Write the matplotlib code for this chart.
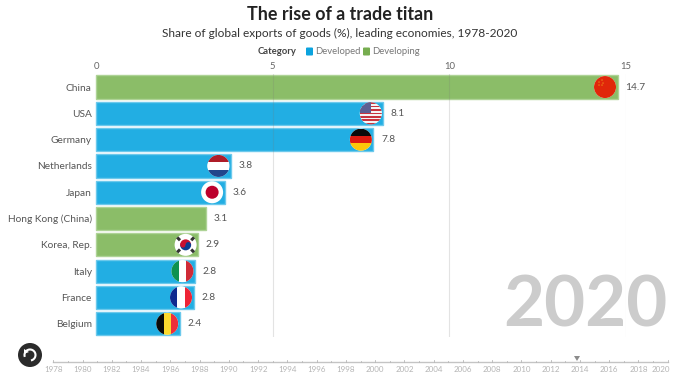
import matplotlib
matplotlib.use('Agg')
import matplotlib.pyplot as plt
from matplotlib.patches import Circle, Rectangle, Arc, Polygon, Wedge, FancyBboxPatch

plt.rcParams['font.family'] = ['Lato', 'DejaVu Sans']

countries = ['China', 'USA', 'Germany', 'Netherlands', 'Japan', 'Hong Kong (China)',
             'Korea, Rep.', 'Italy', 'France', 'Belgium']
shares = [14.76, 8.13, 7.85, 3.82, 3.64, 3.10, 2.89, 2.80, 2.76, 2.37]
share_labels = ['14.7', '8.1', '7.8', '3.8', '3.6', '3.1', '2.9', '2.8', '2.8', '2.4']
groups = ['Developing', 'Developed', 'Developed', 'Developed', 'Developed', 'Developing',
          'Developing', 'Developed', 'Developed', 'Developed']
flags = ['cn', 'us', 'de', 'nl', 'jp', None, 'kr', 'it', 'fr', 'be']
xticks = [0, 5, 10, 15]
years = list(range(1978, 2021))

W, H = 690, 378
BLUE, GREEN = '#22aee3', '#8bbd68'
fills = {'Developed': BLUE, 'Developing': GREEN}
edges = {'Developed': '#6cc9ec', 'Developing': '#aed396'}

fig = plt.figure(figsize=(W / 100, H / 100), dpi=100, facecolor='white')
ax = fig.add_axes([96 / W, 1 - 336.9 / H, 530 / W, 263 / H])
ax.set_xlim(0, 15)
ax.set_ylim(9.5, -0.5)
ax.patch.set_alpha(0)
for s in ax.spines.values():
    s.set_visible(False)

ax.barh(range(len(countries)), shares, height=0.88,
        color=[fills[g] for g in groups], edgecolor=[edges[g] for g in groups],
        linewidth=1, zorder=2, clip_on=False)
ax.set_xticks(xticks)
ax.xaxis.tick_top()
ax.tick_params(axis='x', length=0, pad=2, labelsize=6.8, labelcolor='#666666')
ax.set_yticks(range(len(countries)))
ax.set_yticklabels(countries)
ax.tick_params(axis='y', length=0, pad=3, labelsize=7.3, labelcolor='#555555')
for t in xticks[1:]:
    ax.axvline(t, color='#777777', alpha=0.2, lw=0.8, zorder=3)

for i, (v, lab) in enumerate(zip(shares, share_labels)):
    ax.annotate(lab, (v, i), xytext=(5.5, 0), textcoords='offset points', va='center',
                fontsize=7.3, color='#555555')

# pixel layer for everything that is not on the value scale
ov = fig.add_axes([0, 0, 1, 1], zorder=5)
ov.set_xlim(0, W)
ov.set_ylim(H, 0)
ov.axis('off')
ov.patch.set_alpha(0)


def stripes(cx, cy, clip, cols, horizontal=True):
    n = len(cols)
    for k, c in enumerate(cols):
        step = 22 / n
        if horizontal:
            r = Rectangle((cx - 11, cy - 11 + k * step), 22, step + 0.2, fc=c, lw=0)
        else:
            r = Rectangle((cx - 11 + k * step, cy - 11), step + 0.2, 22, fc=c, lw=0)
        ov.add_patch(r)
        r.set_clip_path(clip)


def draw_flag(code, cx, cy):
    clip = Circle((cx, cy), 11, fc='white', lw=0)
    ov.add_patch(clip)
    if code == 'cn':
        stripes(cx, cy, clip, ['#e0270a'])
        for dx, dy in [(-6, -5), (-3, -7), (-2, -4), (-3, -2), (-6, -2)]:
            ov.add_patch(Circle((cx + dx, cy + dy), 0.6, fc='#f2b01e', lw=0))
    elif code == 'us':
        stripes(cx, cy, clip, ['#c8343f', '#f4f4f4'] * 6 + ['#c8343f'])
        r = Rectangle((cx - 11, cy - 11), 11, 11, fc='#5d5f92', lw=0)
        ov.add_patch(r)
        r.set_clip_path(clip)
    elif code == 'de':
        stripes(cx, cy, clip, ['#0a0a0a', '#dd1a10', '#fdc70a'])
    elif code == 'nl':
        stripes(cx, cy, clip, ['#ae1c28', '#ffffff', '#21468b'])
    elif code == 'jp':
        ov.add_patch(Circle((cx, cy), 6.5, fc='#bc002d', lw=0))
    elif code == 'kr':
        ov.add_patch(Wedge((cx, cy), 5.5, 180, 360, fc='#c8102e', lw=0))
        ov.add_patch(Wedge((cx, cy), 5.5, 0, 180, fc='#0b3c8f', lw=0))
        ov.add_patch(Circle((cx - 2.7, cy), 2.75, fc='#c8102e', lw=0))
        ov.add_patch(Circle((cx + 2.7, cy), 2.75, fc='#0b3c8f', lw=0))
        for dx, dy in [(-7, -6), (7, -6), (-7, 6), (7, 6)]:
            ang = 45 if dx * dy > 0 else -45
            ov.add_patch(Rectangle((cx + dx - 2, cy + dy - 1.5), 4, 3, angle=ang,
                                   rotation_point='center', fc='#333333', lw=0))
    elif code == 'it':
        stripes(cx, cy, clip, ['#0f9150', '#ffffff', '#cf2b37'], horizontal=False)
    elif code == 'fr':
        stripes(cx, cy, clip, ['#0f2a8f', '#ffffff', '#ee2436'], horizontal=False)
    elif code == 'be':
        stripes(cx, cy, clip, ['#0a0a0a', '#fbd92e', '#ee2f3b'], horizontal=False)


fig.canvas.draw()
for i, (code, v) in enumerate(zip(flags, shares)):
    if code is None:
        continue
    px, py = ax.transData.transform((v, i))
    draw_flag(code, px - 12.5, H - py)

# header
ov.text(340, 14, 'The rise of a trade titan', ha='center', va='center', fontsize=12.9,
        fontweight='bold', color='#222222')
ov.text(340, 33, 'Share of global exports of goods (%), leading economies, 1978-2020',
        ha='center', va='center', fontsize=8.6, color='#333333')
ov.text(297, 51.5, 'Category', ha='right', va='center', fontsize=6.8, fontweight='bold',
        color='#444444')
ov.add_patch(FancyBboxPatch((307, 48.5), 5, 6, boxstyle='round,pad=1', fc='#0ba3de', lw=0))
ov.text(315, 51.5, 'Developed', va='center', fontsize=6.8, color='#777777')
ov.add_patch(FancyBboxPatch((364, 48.5), 5, 6, boxstyle='round,pad=1', fc='#76ad4f', lw=0))
ov.text(372, 51.5, 'Developing', va='center', fontsize=6.8, color='#777777')

# big year
ov.text(667, 306, '2020', ha='right', va='center', fontsize=51, fontweight='bold',
        color='#cccccc')

# timeline
t0, t1, y0 = 53.3, 667.7, 362
yr_px = (t1 - t0) / (years[-1] - years[0])
ov.plot([t0, t1], [y0, y0], color='#c4c4c4', lw=1)
for yr in years:
    x = t0 + (yr - years[0]) * yr_px
    major = (yr - years[0]) % 2 == 0
    ov.plot([x, x], [y0 - (2.5 if major else 1.5), y0], color='#b8b8b8', lw=0.6)
    if major:
        lx = x - 7 if yr == 2020 else x
        ov.text(lx, 369.5, str(yr), ha='center', va='center', fontsize=5.8, color='#b5b5b5')
ov.add_patch(Polygon([(574, 356), (580, 356), (577, 361)], fc='#8c8c8c', lw=0))

# replay button
ov.add_patch(Circle((30, 355), 12, fc='#2b2b2b', lw=0))
ov.add_patch(Arc((30, 355), 11, 11, theta1=-200, theta2=80, ec='white', lw=1.5))
ov.add_patch(Polygon([(24, 349), (24, 354), (29, 352)], fc='white', lw=0))

fig.savefig('out.png', dpi=100)
